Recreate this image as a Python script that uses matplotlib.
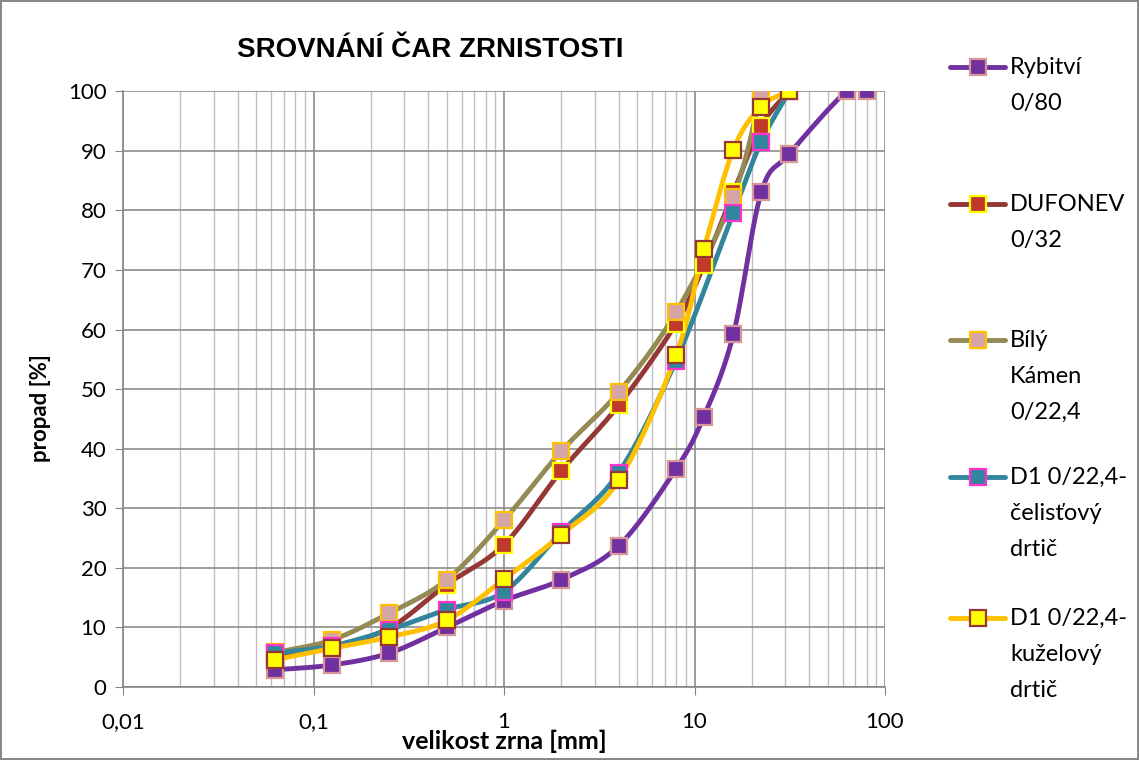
import numpy as np
import matplotlib
matplotlib.use('Agg')
import matplotlib.pyplot as plt
from matplotlib.lines import Line2D
from matplotlib.ticker import FixedLocator, NullFormatter

# Sieve sizes [mm] and passing percentages for each material
x_rybitvi = [0.063, 0.125, 0.25, 0.5, 1, 2, 4, 8, 11.2, 16, 22.4, 31.5, 63, 80]
rybitvi = [2.9, 3.7, 5.7, 10.0, 14.5, 18.0, 23.7, 36.6, 45.4, 59.2, 83.0, 89.5, 100, 100]

x_dufonev = [0.063, 0.125, 0.25, 0.5, 1, 2, 4, 8, 11.2, 16, 22.4, 31.5]
dufonev = [4.9, 6.8, 9.9, 17.2, 23.9, 36.3, 47.3, 61.0, 70.8, 83.0, 94.2, 100]

x_bily = [0.063, 0.125, 0.25, 0.5, 1, 2, 4, 8, 16, 22.4]
bily = [5.8, 7.9, 12.4, 18.0, 28.0, 39.6, 49.5, 62.9, 82.3, 100]

x_celistovy = [0.063, 0.125, 0.25, 0.5, 1, 2, 4, 8, 16, 22.4, 31.5]
celistovy = [5.7, 6.9, 9.6, 13.0, 16.0, 26.0, 36.0, 54.8, 79.6, 91.5, 100]

x_kuzelovy = [0.063, 0.125, 0.25, 0.5, 1, 2, 4, 8, 11.2, 16, 22.4, 31.5]
kuzelovy = [4.6, 6.5, 8.4, 11.2, 18.1, 25.6, 34.7, 55.7, 73.5, 90.2, 97.4, 100]

labels = ['Rybitví\n0/80', 'DUFONEV\n0/32', 'Bílý\nKámen\n0/22,4',
          'D1 0/22,4-\nčelisťový\ndrtič', 'D1 0/22,4-\nkuželový\ndrtič']
xs_all = [x_rybitvi, x_dufonev, x_bily, x_celistovy, x_kuzelovy]
series = [rybitvi, dufonev, bily, celistovy, kuzelovy]
line_colors = ['#7030A0', '#953735', '#948A54', '#31859C', '#FFC000']
face_colors = ['#7030A0', '#C0392B', '#D6A6A6', '#31859C', '#FFFF00']
edge_colors = ['#D99694', '#FFFF00', '#FFC000', '#FF33CC', '#953735']

xticks = [0.01, 0.1, 1, 10, 100]
xtick_labels = ['0,01', '0,1', '1', '10', '100']

plt.rcParams['font.family'] = ['Lato', 'DejaVu Sans']


def smooth(xs, ys, n=30):
    # Excel-like smoothed line: Bezier segments (Catmull-Rom) in log-x space
    lx = np.log10(np.asarray(xs, dtype=float))
    y = np.asarray(ys, dtype=float)
    P = np.column_stack([lx, y])
    P = np.vstack([P[0], P, P[-1]])
    out = []
    t = np.linspace(0, 1, n)[:, None]
    for i in range(1, len(P) - 2):
        p0, p1, p2, p3 = P[i - 1], P[i], P[i + 1], P[i + 2]
        c1 = p1 + (p2 - p0) / 6
        c2 = p2 - (p3 - p1) / 6
        seg = ((1 - t) ** 3) * p1 + 3 * ((1 - t) ** 2) * t * c1 + 3 * (1 - t) * t ** 2 * c2 + t ** 3 * p2
        out.append(seg)
    out = np.vstack(out)
    return 10 ** out[:, 0], out[:, 1]


fig = plt.figure(figsize=(11.39, 7.6), dpi=100)
fig.patch.set_edgecolor('#888888')
fig.patch.set_linewidth(1.5)
ax = fig.add_axes([0.108, 0.096, 0.669, 0.784])

for xs, ys, lc, fc, ec in zip(xs_all, series, line_colors, face_colors, edge_colors):
    sx, sy = smooth(xs, ys)
    ax.plot(sx, sy, color=lc, lw=3.5, solid_capstyle='round', zorder=3)
    ax.plot(xs, ys, ls='none', marker='s', ms=11, mfc=fc, mec=ec, mew=1.6, zorder=4)

ax.set_xscale('log')
ax.set_xlim(0.01, 100)
ax.set_ylim(0, 100)
ax.xaxis.set_major_locator(FixedLocator(xticks))
ax.set_xticklabels(xtick_labels)
minors = [m * 10.0 ** e for e in range(-2, 2) for m in range(2, 10)]
ax.xaxis.set_minor_locator(FixedLocator(minors))
ax.xaxis.set_minor_formatter(NullFormatter())
ax.set_yticks(range(0, 101, 10))

ax.grid(which='major', color='#8C8C8C', lw=1.2)
ax.grid(which='minor', axis='x', color='#BFBFBF', lw=1.0)
ax.set_axisbelow(True)
for s in ['top', 'right']:
    ax.spines[s].set_visible(False)
for s in ['left', 'bottom']:
    ax.spines[s].set_color('#868686')
    ax.spines[s].set_linewidth(1.2)
ax.tick_params(which='major', length=6, color='#868686', labelsize=16, pad=6)
ax.tick_params(which='minor', length=0)
ax.tick_params(axis='x', pad=12)

ax.set_xlabel('velikost zrna [mm]', fontsize=18, fontweight='bold')
ax.xaxis.set_label_coords(0.5, -0.072)
ax.set_ylabel('propad [%]', fontsize=16, fontweight='bold')
ax.yaxis.set_label_coords(-0.095, 0.468)
fig.text(0.378, 0.934, 'SROVNÁNÍ ČAR ZRNISTOSTI', fontsize=20, fontweight='bold',
         family=['Liberation Sans', 'DejaVu Sans'], ha='center', va='center')

# legend, evenly spaced entries
leg_y = [67, 204, 340, 477, 618]
H = 760.0
W = 1139.0
for lab, lc, fc, ec, yp in zip(labels, line_colors, face_colors, edge_colors, leg_y):
    yf = 1 - yp / H
    fig.add_artist(Line2D([950 / W, 1005 / W], [yf, yf], color=lc, lw=3.5,
                          solid_capstyle='round', transform=fig.transFigure))
    fig.add_artist(Line2D([978 / W], [yf], ls='none', marker='s', ms=11, mfc=fc,
                          mec=ec, mew=1.6, transform=fig.transFigure))
    fig.text(1010 / W, yf + 10 / H, lab, fontsize=17, va='top', ha='left',
             linespacing=1.87)

fig.savefig('out.png', dpi=100)
